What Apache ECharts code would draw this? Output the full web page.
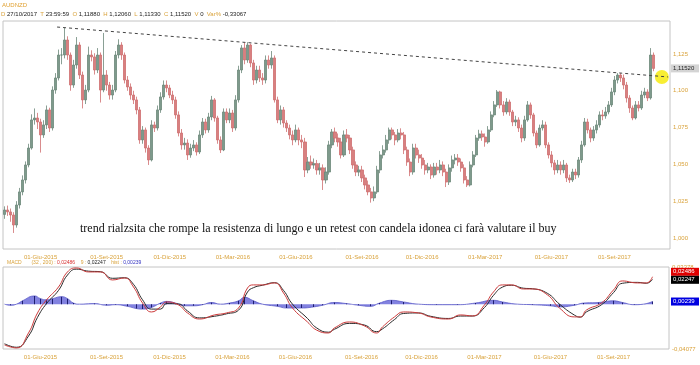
<!DOCTYPE html>
<html><head><meta charset="utf-8">
<script src="https://cdn.jsdelivr.net/npm/echarts@6/dist/echarts.min.js"></script>
<style>html,body{margin:0;padding:0;background:#fff}#c{width:700px;height:365px}</style>
</head><body><div id="c"></div>
<script>
// ---- price data (one candle ≈ 3 trading days), AUDNZD ----
const opens=[1.0160,1.0190,1.0177,1.0156,1.0088,1.0224,1.0313,1.0394,1.0496,1.0611,
1.0802,1.0815,1.0788,1.0700,1.0768,1.0870,1.0747,1.1005,1.1087,1.1243,
1.1243,1.1345,1.1243,1.1039,1.1175,1.1311,1.1107,1.0938,1.1005,1.1243,
1.1230,1.1141,1.1243,1.1005,1.1107,1.1039,1.0971,1.1005,1.1243,1.1311,
1.1243,1.1073,1.1026,1.0971,1.0938,1.0870,1.0666,1.0734,1.0611,1.0530,
1.0768,1.0747,1.0870,1.0958,1.1039,1.1019,1.0971,1.0938,1.0836,1.0713,
1.0632,1.0645,1.0564,1.0611,1.0632,1.0584,1.0700,1.0788,1.0734,1.0822,
1.0938,1.0815,1.0666,1.0598,1.0856,1.0802,1.0849,1.0747,1.0938,1.1141,
1.1291,1.1209,1.1311,1.1189,1.1073,1.1141,1.1087,1.1073,1.1209,1.1175,
1.1223,1.0938,1.0802,1.0870,1.0781,1.0747,1.0700,1.0666,1.0734,1.0666,
1.0652,1.0462,1.0516,1.0496,1.0505,1.0462,1.0476,1.0394,1.0448,1.0632,
1.0720,1.0679,1.0652,1.0564,1.0700,1.0679,1.0598,1.0496,1.0448,1.0462,
1.0408,1.0360,1.0313,1.0272,1.0313,1.0462,1.0564,1.0598,1.0666,1.0734,
1.0700,1.0666,1.0713,1.0700,1.0598,1.0516,1.0448,1.0611,1.0564,1.0543,
1.0496,1.0462,1.0482,1.0428,1.0482,1.0462,1.0496,1.0448,1.0380,1.0476,
1.0530,1.0543,1.0516,1.0476,1.0394,1.0360,1.0496,1.0564,1.0679,1.0707,
1.0686,1.0652,1.0734,1.0836,1.0904,1.0992,1.0904,1.0856,1.0924,1.0856,
1.0788,1.0802,1.0747,1.0679,1.0802,1.0904,1.0836,1.0713,1.0632,1.0747,
1.0768,1.0632,1.0564,1.0510,1.0462,1.0496,1.0462,1.0496,1.0408,1.0394,
1.0448,1.0428,1.0530,1.0632,1.0788,1.0734,1.0679,1.0734,1.0768,1.0836,
1.0829,1.0856,1.0904,1.0992,1.1073,1.1107,1.1087,1.1039,1.0951,1.0883,
1.0815,1.0904,1.0883,1.0971,1.0992,1.0951,1.1243];
const closes=[1.0190,1.0177,1.0156,1.0088,1.0224,1.0313,1.0394,1.0496,1.0611,1.0802,
1.0815,1.0788,1.0700,1.0768,1.0870,1.0747,1.1005,1.1087,1.1243,1.1243,
1.1345,1.1243,1.1039,1.1175,1.1311,1.1107,1.0938,1.1005,1.1243,1.1230,
1.1141,1.1243,1.1005,1.1107,1.1039,1.0971,1.1005,1.1243,1.1311,1.1243,
1.1073,1.1026,1.0971,1.0938,1.0870,1.0666,1.0734,1.0611,1.0530,1.0768,
1.0747,1.0870,1.0958,1.1039,1.1019,1.0971,1.0938,1.0836,1.0713,1.0632,
1.0645,1.0564,1.0611,1.0632,1.0584,1.0700,1.0788,1.0734,1.0822,1.0938,
1.0815,1.0666,1.0598,1.0856,1.0802,1.0849,1.0747,1.0938,1.1141,1.1291,
1.1209,1.1311,1.1189,1.1073,1.1141,1.1087,1.1073,1.1209,1.1175,1.1223,
1.0938,1.0802,1.0870,1.0781,1.0747,1.0700,1.0666,1.0734,1.0666,1.0652,
1.0462,1.0516,1.0496,1.0505,1.0462,1.0476,1.0394,1.0448,1.0632,1.0720,
1.0679,1.0652,1.0564,1.0700,1.0679,1.0598,1.0496,1.0448,1.0462,1.0408,
1.0360,1.0313,1.0272,1.0313,1.0462,1.0564,1.0598,1.0666,1.0734,1.0700,
1.0666,1.0713,1.0700,1.0598,1.0516,1.0448,1.0611,1.0564,1.0543,1.0496,
1.0462,1.0482,1.0428,1.0482,1.0462,1.0496,1.0448,1.0380,1.0476,1.0530,
1.0543,1.0516,1.0476,1.0394,1.0360,1.0496,1.0564,1.0679,1.0707,1.0686,
1.0652,1.0734,1.0836,1.0904,1.0992,1.0904,1.0856,1.0924,1.0856,1.0788,
1.0802,1.0747,1.0679,1.0802,1.0904,1.0836,1.0713,1.0632,1.0747,1.0768,
1.0632,1.0564,1.0510,1.0462,1.0496,1.0462,1.0496,1.0408,1.0394,1.0448,
1.0428,1.0530,1.0632,1.0788,1.0734,1.0679,1.0734,1.0768,1.0836,1.0829,
1.0856,1.0904,1.0992,1.1073,1.1107,1.1087,1.1039,1.0951,1.0883,1.0815,
1.0904,1.0883,1.0971,1.0992,1.0951,1.1243,1.1152];
const lows=[1.0130,1.0150,1.0110,1.0034,1.0070,1.0200,1.0290,1.0370,1.0480,1.0600,
1.0770,1.0740,1.0580,1.0680,1.0740,1.0720,1.0730,1.0980,1.1070,1.1180,
1.1220,1.1210,1.1000,1.1020,1.1150,1.1080,1.0880,1.0910,1.0990,1.1200,
1.1110,1.1120,1.0920,1.0990,1.1000,1.0940,1.0940,1.0990,1.1220,1.1210,
1.1050,1.1000,1.0940,1.0910,1.0840,1.0640,1.0640,1.0580,1.0496,1.0520,
1.0720,1.0730,1.0850,1.0940,1.0990,1.0950,1.0910,1.0810,1.0690,1.0600,
1.0600,1.0530,1.0545,1.0590,1.0560,1.0570,1.0680,1.0710,1.0715,1.0800,
1.0790,1.0640,1.0577,1.0590,1.0780,1.0780,1.0720,1.0730,1.0920,1.1120,
1.1180,1.1190,1.1160,1.1040,1.1050,1.1060,1.1040,1.1050,1.1150,1.1150,
1.0920,1.0780,1.0770,1.0750,1.0720,1.0670,1.0630,1.0650,1.0630,1.0610,
1.0414,1.0440,1.0470,1.0470,1.0430,1.0430,1.0326,1.0370,1.0430,1.0610,
1.0650,1.0620,1.0540,1.0550,1.0650,1.0570,1.0470,1.0420,1.0420,1.0380,
1.0330,1.0290,1.0240,1.0250,1.0300,1.0440,1.0540,1.0580,1.0640,1.0670,
1.0630,1.0650,1.0670,1.0570,1.0490,1.0420,1.0430,1.0540,1.0510,1.0470,
1.0430,1.0440,1.0400,1.0410,1.0430,1.0440,1.0420,1.0346,1.0360,1.0450,
1.0500,1.0490,1.0450,1.0370,1.0346,1.0350,1.0480,1.0550,1.0660,1.0660,
1.0620,1.0640,1.0720,1.0820,1.0890,1.0880,1.0830,1.0840,1.0830,1.0760,
1.0760,1.0720,1.0650,1.0660,1.0790,1.0810,1.0690,1.0610,1.0620,1.0730,
1.0610,1.0540,1.0480,1.0430,1.0440,1.0430,1.0440,1.0380,1.0374,1.0380,
1.0400,1.0410,1.0510,1.0620,1.0710,1.0650,1.0660,1.0710,1.0750,1.0800,
1.0810,1.0840,1.0890,1.0970,1.1050,1.1060,1.1010,1.0920,1.0850,1.0800,
1.0805,1.0860,1.0870,1.0950,1.0930,1.0940,1.1133];
const highs=[1.0215,1.0220,1.0200,1.0175,1.0250,1.0340,1.0425,1.0520,1.0640,1.0840,
1.0880,1.0850,1.0810,1.0800,1.0900,1.0885,1.1030,1.1120,1.1280,1.1290,
1.1427,1.1370,1.1260,1.1210,1.1365,1.1330,1.1130,1.1040,1.1300,1.1275,
1.1255,1.1290,1.1260,1.1393,1.1140,1.1060,1.1040,1.1270,1.1350,1.1330,
1.1260,1.1100,1.1050,1.1000,1.0960,1.0890,1.0760,1.0750,1.0630,1.0800,
1.0790,1.0900,1.0990,1.1070,1.1070,1.1040,1.1000,1.0960,1.0860,1.0740,
1.0680,1.0670,1.0640,1.0665,1.0650,1.0730,1.0815,1.0810,1.0850,1.0965,
1.0950,1.0830,1.0690,1.0880,1.0880,1.0880,1.0870,1.0970,1.1170,1.1310,
1.1325,1.1330,1.1320,1.1210,1.1170,1.1170,1.1120,1.1240,1.1240,1.1270,
1.1240,1.0960,1.0900,1.0890,1.0800,1.0770,1.0730,1.0770,1.0750,1.0700,
1.0680,1.0550,1.0560,1.0540,1.0530,1.0510,1.0500,1.0480,1.0660,1.0740,
1.0750,1.0710,1.0680,1.0730,1.0740,1.0700,1.0620,1.0520,1.0490,1.0490,
1.0430,1.0390,1.0340,1.0350,1.0490,1.0590,1.0630,1.0700,1.0750,1.0750,
1.0720,1.0740,1.0745,1.0720,1.0620,1.0540,1.0640,1.0640,1.0600,1.0570,
1.0530,1.0510,1.0500,1.0510,1.0510,1.0530,1.0520,1.0470,1.0500,1.0560,
1.0570,1.0570,1.0540,1.0500,1.0420,1.0520,1.0590,1.0700,1.0735,1.0730,
1.0710,1.0760,1.0860,1.0930,1.1005,1.1000,1.0930,1.0950,1.0940,1.0870,
1.0830,1.0820,1.0770,1.0830,1.0930,1.0920,1.0850,1.0730,1.0770,1.0800,
1.0790,1.0650,1.0590,1.0530,1.0530,1.0520,1.0530,1.0510,1.0430,1.0470,
1.0470,1.0550,1.0660,1.0815,1.0810,1.0750,1.0760,1.0800,1.0860,1.0870,
1.0890,1.0930,1.1020,1.1100,1.1120,1.1120,1.1110,1.1060,1.0970,1.0900,
1.0930,1.0930,1.1000,1.1020,1.1010,1.1290,1.1260];

// ---- axis categories / tick labels ----
const N_CAT = 222;
const tickIndex = [12, 34, 55, 76, 97, 119, 139, 160, 182, 203];
const tickLabels = ['01-Giu-2015','01-Set-2015','01-Dic-2015','01-Mar-2016','01-Giu-2016','01-Set-2016','01-Dic-2016','01-Mar-2017','01-Giu-2017','01-Set-2017'];
const priceTicks = [1.000, 1.025, 1.050, 1.075, 1.100, 1.125];
const priceMin = 0.9925, priceMax = 1.1474;

// ---- resistance trendline and marker ----
const trendX = [17.5, 220.8];
const trendY = [1.1433, 1.1094];
const circleX = [218.8];
const circleY = [1.1094];

// ---- MACD panel ----
const macdMin = -0.04077, macdMax = 0.03378;
const macdX = [0,4,8,11,14,18,21,24,28,32,36,40,43,46,49,52,54,58,61,65,70,74,78,81,83,86,90,93,96,101,104,108,110,115,120,124,126,130,133,138,142,148,152,156,160,163,166,169,173,176,181,185,190,192,194,199,203,206,211,214,216];
const macdLine = [-0.0371,-0.0398,-0.0262,-0.0080,0.0038,0.0156,0.0293,0.0329,0.0293,0.0293,0.0220,0.0238,0.0156,0.0011,-0.0071,-0.0025,0.0020,-0.0007,-0.0080,-0.0135,-0.0098,-0.0080,-0.0035,0.0147,0.0175,0.0175,0.0193,0.0102,-0.0035,-0.0162,-0.0235,-0.0262,-0.0216,-0.0162,-0.0198,-0.0262,-0.0207,-0.0116,-0.0071,-0.0080,-0.0116,-0.0135,-0.0098,-0.0107,-0.0007,0.0111,0.0175,0.0175,0.0138,0.0138,0.0084,-0.0035,-0.0116,-0.0116,-0.0053,0.0011,0.0129,0.0211,0.0193,0.0193,0.0249];
const signalLine = [-0.0360,-0.0392,-0.0290,-0.0120,0.0005,0.0125,0.0265,0.0318,0.0300,0.0295,0.0235,0.0240,0.0180,0.0040,-0.0045,-0.0045,0.0005,0.0002,-0.0062,-0.0125,-0.0110,-0.0088,-0.0055,0.0110,0.0150,0.0172,0.0195,0.0125,0.0000,-0.0130,-0.0215,-0.0255,-0.0228,-0.0175,-0.0190,-0.0250,-0.0225,-0.0140,-0.0085,-0.0080,-0.0110,-0.0130,-0.0108,-0.0108,-0.0030,0.0080,0.0155,0.0172,0.0145,0.0140,0.0098,0.0000,-0.0100,-0.0118,-0.0070,-0.0005,0.0105,0.0190,0.0198,0.0190,0.0225];
const histX = [0,2,4,6,10,12,14,16,19,21,23,25,30,34,37,41,44,46,49,52,54,57,60,63,66,69,72,75,78,80,83,86,91,94,99,103,106,110,114,118,122,125,129,133,138,144,151,157,163,166,171,176,182,185,190,193,198,203,206,210,213,216];
const histVal = [0,-0.001,0,0.003,0.0075,0.005,0.004,0.005,0.0068,0.005,0.001,0,0.0005,-0.001,-0.0005,-0.002,-0.004,-0.0045,-0.003,0.001,0.0025,0.001,-0.0015,-0.0015,-0.0005,0.0015,0,0.001,0.003,0.0062,0.003,0,-0.002,-0.0035,-0.0035,-0.0025,-0.001,0.0015,0.0005,-0.001,-0.002,0.001,0.0035,0.002,0,-0.0005,-0.0005,0.001,0.0035,0.002,0,-0.0005,-0.0015,-0.0025,-0.001,0.001,0.0015,0.003,0.0015,-0.0005,0,0.0024];
const macdLast = 0.02486, signalLast = 0.02247, histLast = 0.00239;
const headerValues = {D:'27/10/2017', T:'23:59:59', O:'1,11880', H:'1,12060', L:'1,11330', C:'1,11520', V:'0', Var:'-0,33067'};

// ---- build ----
const GOLD = '#d9a23a';
const SANS = '"Liberation Sans", Arial, sans-serif';
const categories = Array.from({length: N_CAT}, (_, i) => String(i));
const candleData = opens.map((o, i) => [o, closes[i], lows[i], highs[i]]);
const pair = (xs, vs) => xs.map((x, i) => [x, vs[i]]);
const comma = (v, d) => v.toFixed(d).replace('.', ',');
const catLabel = {
  interval: (idx) => tickIndex.indexOf(idx) >= 0,
  formatter: (v, idx) => { const k = tickIndex.indexOf(idx); return k >= 0 ? tickLabels[k] : ''; },
  color: GOLD, fontSize: 6, fontFamily: SANS, margin: 5
};

const chart = echarts.init(document.getElementById('c'), null, {renderer: 'canvas'});
chart.setOption({
  animation: false,
  backgroundColor: '#fff',
  grid: [
    {left: 3, top: 21, width: 667, height: 228, show: true, borderColor: '#c4c4c4', borderWidth: 1, outerBoundsMode: 'none', containLabel: false},
    {left: 3, top: 267, width: 666, height: 82, show: true, borderColor: '#c4c4c4', borderWidth: 1, outerBoundsMode: 'none', containLabel: false}
  ],
  xAxis: [
    {type: 'category', gridIndex: 0, data: categories, boundaryGap: true, axisLine: {show: false}, axisTick: {show: false}, splitLine: {show: false}, axisLabel: catLabel},
    {type: 'category', gridIndex: 1, data: categories, boundaryGap: true, axisLine: {show: false}, axisTick: {show: false}, splitLine: {show: false}, axisLabel: catLabel},
    {type: 'value', gridIndex: 0, min: -0.5, max: N_CAT - 0.5, show: false}
  ],
  yAxis: [
    {type: 'value', gridIndex: 0, position: 'right', min: priceMin, max: priceMax,
     splitLine: {show: false}, axisLine: {show: false}, axisTick: {show: false},
     axisLabel: {customValues: priceTicks, formatter: v => comma(v, 3), color: GOLD, fontSize: 6, fontFamily: SANS, margin: 3}},
    {type: 'value', gridIndex: 1, position: 'right', min: macdMin, max: macdMax,
     splitLine: {show: false}, axisLine: {show: false}, axisTick: {show: false},
     axisLabel: {customValues: [macdMin, macdMax], formatter: v => comma(v, 5), color: GOLD, fontSize: 6, fontFamily: SANS, margin: 3}}
  ],
  series: [
    {type: 'candlestick', xAxisIndex: 0, yAxisIndex: 0, data: candleData, barWidth: 2.6,
     itemStyle: {color: '#7e9a8c', color0: '#d88080', borderColor: '#6c887a', borderColor0: '#cf6f70', borderWidth: 0.8}},
    {type: 'scatter', xAxisIndex: 2, yAxisIndex: 0, data: pair(circleX, circleY), symbolSize: 14,
     itemStyle: {color: '#f6ea00'}, z: 4, silent: true},
    {type: 'line', xAxisIndex: 2, yAxisIndex: 0, data: pair(trendX, trendY), symbol: 'none',
     lineStyle: {type: [3, 3], color: '#444', width: 1}, z: 5, silent: true},
    {type: 'line', xAxisIndex: 1, yAxisIndex: 1, data: pair(histX, histVal), smooth: true, symbol: 'none',
     lineStyle: {width: 0.8, color: '#5a5ac8'}, areaStyle: {color: '#8282e0', opacity: 1}, z: 2},
    {type: 'bar', xAxisIndex: 1, yAxisIndex: 1, data: pair(histX, histVal), barWidth: 1,
     itemStyle: {color: '#1e1e70'}, z: 3},
    {type: 'line', xAxisIndex: 1, yAxisIndex: 1, data: pair(macdX, signalLine), smooth: true, symbol: 'none',
     lineStyle: {width: 1, color: '#2a2a2a'}, z: 4},
    {type: 'line', xAxisIndex: 1, yAxisIndex: 1, data: pair(macdX, macdLine), smooth: true, symbol: 'none',
     lineStyle: {width: 1, color: '#cc3a3a'}, z: 5}
  ]
});

// ---- overlay texts and value boxes ----
const lastClose = closes[closes.length - 1];
const pyPrice = chart.convertToPixel({yAxisIndex: 0}, lastClose);
const pyMacd = chart.convertToPixel({yAxisIndex: 1}, macdLast);
const pyHist = chart.convertToPixel({yAxisIndex: 1}, histLast);
const f6 = '6px ' + SANS;
const f5 = '5px ' + SANS;
function box(y, fill, txt, tcol) {
  return {type: 'group', children: [
    {type: 'rect', shape: {x: 671, y: y - 4, width: 28, height: 8}, style: {fill: fill}, z: 20},
    {type: 'text', x: 673, y: y, style: {text: txt, fill: tcol, font: f6, verticalAlign: 'middle'}, z: 21}
  ]};
}
const hv = headerValues;
const redY = pyMacd - 5;
chart.setOption({
  graphic: [
    {type: 'text', x: 2, y: 5, style: {text: 'AUDNZD', fill: '#e0a030', font: f6, verticalAlign: 'middle'}},
    {type: 'text', x: 1, y: 14, style: {
      text: '{g|D} {k|' + hv.D + '}  {g|T} {k|' + hv.T + '}  {g|O} {k|' + hv.O + '}  {g|H} {k|' + hv.H + '}  {g|L} {k|' + hv.L + '}  {g|C} {k|' + hv.C + '}  {g|V} {k|' + hv.V + '}  {g|Var%} {k|' + hv.Var + '}',
      font: f6, verticalAlign: 'middle',
      rich: {g: {fill: GOLD, color: GOLD, font: f6}, k: {fill: '#222', color: '#222', font: f6}}}},
    {type: 'text', x: 7, y: 263, style: {
      text: '{g|MACD}       {g|(32 , 200) :} {r|' + comma(macdLast, 5) + '}    {g|9 :} {k|' + comma(signalLast, 5) + '}    {g|hist :} {b|' + comma(histLast, 5) + '}',
      font: f5, verticalAlign: 'middle',
      rich: {g: {fill: GOLD, color: GOLD, font: f5}, k: {fill: '#222', color: '#222', font: f5},
             r: {fill: '#d83030', color: '#d83030', font: f5}, b: {fill: '#3030c0', color: '#3030c0', font: f5}}}},
    {type: 'text', x: 80, y: 229, style: {
      text: 'trend rialzsita che rompe la resistenza di lungo e un retest con candela idonea ci farà valutare il buy',
      fill: '#111', font: '12px "Liberation Serif", "Times New Roman", serif', verticalAlign: 'middle'}},
    box(pyPrice, '#d4d4d4', comma(lastClose, 5), '#222'),
    box(redY, '#e00000', comma(macdLast, 5), '#fff'),
    box(redY + 8, '#000000', comma(signalLast, 5), '#fff'),
    box(pyHist, '#0000e0', comma(histLast, 5), '#fff')
  ]
});
</script>
</body></html>
